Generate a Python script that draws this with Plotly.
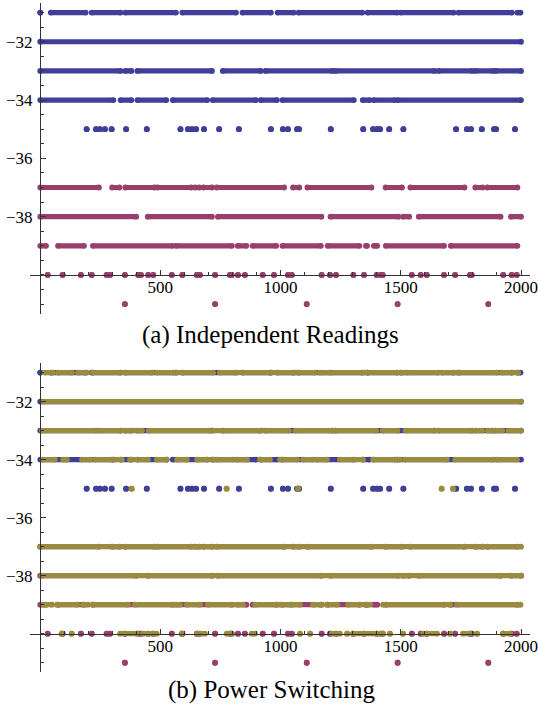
import plotly.graph_objects as go

# ---------------- data (x runs [start, end] of consecutive readings, per level) -------------
# Panel (a) / shared: blue series (levels -31 .. -35)
blue_m31 = [[1, 1], [45, 190], [215, 335], [355, 565], [592, 815], [842, 960], [988, 1055],
            [1075, 1340], [1362, 1485], [1500, 1720], [1740, 1962], [1985, 1998]]
blue_m32 = [[1, 2000]]
blue_m33 = [[1, 335], [355, 380], [405, 715], [760, 918], [938, 1215], [1228, 1640],
            [1657, 1797], [1811, 1882], [1894, 2000]]
blue_m34 = [[1, 305], [335, 380], [405, 525], [552, 695], [718, 898], [918, 985],
            [1008, 1305], [1342, 1370], [1387, 1475], [1487, 2000]]
blue_m35 = [194, 233, 249, 270, 298, 358, 444, 584, 615, 632, 649, 682, 745, 827, 960,
            1010, 1031, 1069, 1077, 1209, 1344, 1385, 1401, 1414, 1452, 1511, 1730, 1775,
            1792, 1837, 1888, 1896, 1975]

# magenta series (levels -37 .. -41)
mag_m37 = [[1, 245], [300, 330], [355, 475], [488, 628], [645, 662], [680, 715], [735, 1015],
           [1052, 1078], [1112, 1378], [1437, 1505], [1540, 1765], [1810, 1840], [1860, 1985]]
mag_m38 = [[1, 400], [448, 715], [740, 1170], [1208, 1490], [1510, 1535], [1575, 1915],
           [1958, 2000]]
mag_m39 = [[1, 25], [75, 183], [220, 550], [565, 798], [822, 858], [884, 982], [1008, 1168],
           [1196, 1328], [1355, 1360], [1388, 1402], [1438, 1680], [1708, 1985]]
mag_m40 = [32, 94, 170, 215, 277, 291, 353, 409, 420, 450, 471, 548, 592, 652, 665, 728, 790,
           797, 823, 852, 926, 973, 1031, 1047, 1171, 1206, 1231, 1303, 1347, 1400, 1418,
           1425, 1546, 1583, 1608, 1680, 1726, 1788, 1795, 1926, 1961, 1982]
mag_m41 = [353, 728, 1109, 1487, 1864]

# Panel (b) only: olive series (power switching)
olv_m31 = [[21, 54], [75, 133], [158, 195], [220, 466], [486, 553], [570, 720], [748, 956],
           [960, 1060], [1069, 1143], [1164, 1206], [1214, 1351], [1360, 1509], [1526, 1655],
           [1672, 1734], [1746, 1900], [1921, 1988]]
olv_m32 = [[15, 2000]]
olv_m33 = [[8, 232], [246, 424], [452, 703], [722, 1035], [1062, 1398], [1425, 1486],
           [1520, 1838], [1862, 1922], [1948, 2000]]
olv_m34 = [[12, 62], [96, 112], [175, 208], [229, 299], [312, 341], [374, 449], [486, 528],
           [570, 611], [653, 719], [736, 802], [819, 861], [915, 956], [998, 1069],
           [1094, 1135], [1152, 1193], [1247, 1343], [1385, 1497], [1518, 1692], [1726, 1884],
           [1900, 1983]]
olv_m35 = [381, 776, 1073, 1670, 1717]
olv_m37 = [[1, 2000]]
olv_m38 = [[8, 2000]]
olv_m39 = [[12, 50], [71, 154], [179, 200], [220, 366], [395, 582], [611, 665], [699, 844],
           [894, 985], [998, 1040], [1048, 1081], [1135, 1173], [1193, 1235], [1281, 1372],
           [1426, 1705], [1734, 1998]]
olv_m40 = [[90, 90], [132, 132], [333, 402], [428, 485], [589, 589], [652, 686], [776, 797],
           [880, 894], [1081, 1081], [1123, 1123], [1214, 1247], [1277, 1277], [1301, 1426],
           [1455, 1455], [1509, 1509], [1593, 1651], [1705, 1705], [1759, 1788], [1817, 1817],
           [1925, 1954]]

levels_blue = [-31, -32, -33, -34, -35]
levels_mag = [-37, -38, -39, -40, -41]
x_ticks = [500, 1000, 1500, 2000]
y_ticks = [-38, -36, -34, -32]
captions = ["(a) Independent Readings", "(b) Power Switching"]

BLUE = "#3f3f99"
MAG = "#993f6c"
OLV = "#998c3f"

W, H = 538, 711


def runs_xy(runs, level):
    xs, ys = [], []
    for r in runs:
        if isinstance(r, (list, tuple)):
            s, e = r
        else:
            s = e = r
        xs += [s, e, None]
        ys += [level, level, None]
    return xs, ys


def add_row(fig, runs, level, color, xa, ya):
    xs, ys = runs_xy(runs, level)
    fig.add_trace(go.Scatter(
        x=xs, y=ys, mode="lines+markers", xaxis=xa, yaxis=ya,
        line=dict(color=color, width=5.2),
        marker=dict(color=color, size=5.8, line=dict(width=0)),
        hoverinfo="skip", showlegend=False))


fig = go.Figure()
blue_rows = [blue_m31, blue_m32, blue_m33, blue_m34, blue_m35]
mag_rows = [mag_m37, mag_m38, mag_m39, mag_m40, mag_m41]
olv_rows = [olv_m31, olv_m32, olv_m33, olv_m34, olv_m35]
olv_rows_low = [olv_m37, olv_m38, olv_m39, olv_m40]

for xa, ya, with_olive in (("x", "y", False), ("x2", "y2", True)):
    for runs, lv in zip(blue_rows, levels_blue):
        add_row(fig, runs, lv, BLUE, xa, ya)
    for runs, lv in zip(mag_rows, levels_mag):
        add_row(fig, runs, lv, MAG, xa, ya)
    if with_olive:
        for runs, lv in zip(olv_rows, levels_blue):
            add_row(fig, runs, lv, OLV, xa, ya)
        for runs, lv in zip(olv_rows_low, levels_mag[:4]):
            add_row(fig, runs, lv, OLV, xa, ya)

FONT = "Liberation Serif"
AXC = "#333333"
x_range = [-41.6, 2037.4]
y_range = [-41.33, -30.67]


def xaxis_cfg(pos):
    return dict(domain=[30 / W, 530 / W], range=x_range, anchor="free", position=pos,
                automargin=False, ticklabeloverflow="allow",
                showline=True, linecolor=AXC, linewidth=1, showgrid=False, zeroline=False,
                ticks="inside", tickvals=x_ticks, ticklen=5, tickcolor=AXC, tickwidth=1,
                minor=dict(dtick=100, tick0=0, ticks="inside", ticklen=3, tickcolor=AXC,
                           showgrid=False),
                tickfont=dict(family=FONT, size=17, color="black"),
                ticklabelstandoff=-3, fixedrange=True)


def yaxis_cfg(dom):
    return dict(domain=dom, range=y_range, anchor="free", position=40 / W,
                automargin=False, ticklabeloverflow="allow",
                showline=True, linecolor=AXC, linewidth=1, showgrid=False, zeroline=False,
                ticks="inside", tickvals=y_ticks, ticklen=5, tickcolor=AXC, tickwidth=1,
                minor=dict(dtick=0.5, tick0=-41, ticks="inside", ticklen=3, tickcolor=AXC,
                           showgrid=False),
                tickfont=dict(family=FONT, size=17, color="black"),
                ticklabelstandoff=4, fixedrange=True)


fig.update_layout(
    template="none",
    width=W, height=H, margin=dict(l=0, r=0, t=0, b=0, autoexpand=False),
    paper_bgcolor="white", plot_bgcolor="white",
    xaxis=xaxis_cfg(1 - 274.9 / H), yaxis=yaxis_cfg([1 - 313.7 / H, 1 - 3 / H]),
    xaxis2=xaxis_cfg(1 - 633.7 / H), yaxis2=yaxis_cfg([1 - 672.3 / H, 1 - 363 / H]),
    annotations=[
        dict(text=captions[0], x=270 / W, y=1 - 335 / H, xref="paper", yref="paper",
             xanchor="center", yanchor="middle", showarrow=False,
             font=dict(family=FONT, size=25, color="black")),
        dict(text=captions[1], x=271 / W, y=1 - 690 / H, xref="paper", yref="paper",
             xanchor="center", yanchor="middle", showarrow=False,
             font=dict(family=FONT, size=25, color="black")),
    ],
)

fig.write_html("out.html", config={"displayModeBar": False},
               post_script="document.body.style.margin='0';document.body.style.overflow='hidden';")
